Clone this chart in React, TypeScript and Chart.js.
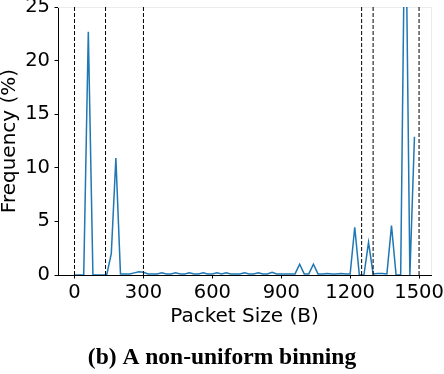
import React, { useEffect, useRef } from "react";
import { Chart, registerables } from "chart.js";

Chart.register(...registerables);

const packetSizes = [
  0, 20, 40, 60, 80, 100, 120, 140, 160, 180, 200, 220, 240, 260, 280, 300,
  320, 340, 360, 380, 400, 420, 440, 460, 480, 500, 520, 540, 560, 580, 600,
  620, 640, 660, 680, 700, 720, 740, 760, 780, 800, 820, 840, 860, 880, 900,
  920, 940, 960, 980, 1000, 1020, 1040, 1060, 1080, 1100, 1120, 1140, 1160,
  1180, 1200, 1220, 1240, 1260, 1280, 1300, 1320, 1340, 1360, 1380, 1400,
  1420, 1440, 1460, 1480,
];

const frequencies = [
  0, 0, 0, 22.7, 0, 0, 0, 0, 2.0, 10.9, 0.1, 0.1, 0.1, 0.2, 0.3, 0.25,
  0.1, 0.1, 0.1, 0.2, 0.1, 0.1, 0.2, 0.1, 0.1, 0.2, 0.1, 0.1, 0.2, 0.1, 0.1,
  0.2, 0.1, 0.2, 0.1, 0.1, 0.1, 0.2, 0.1, 0.1, 0.2, 0.1, 0.1, 0.25, 0.1, 0.1,
  0.1, 0.1, 0.1, 1.0, 0.1, 0.1, 1.0, 0.1, 0.1, 0.15, 0.1, 0.1, 0.15,
  0.1, 0.1, 4.45, 0, 0, 3.05, 0.1, 0.15, 0.15, 0.1, 4.6, 0,
  0, 38, 0, 12.9,
];

const binEdges = [0, 135, 300, 1250, 1300, 1500];
const xTicks = [0, 300, 600, 900, 1200, 1500];
const yTicks = [0, 5, 10, 15, 20, 25];
const xRange = [-72, 1552];
const yRange = [0, 25];
const xLabel = "Packet Size (B)";
const yLabel = "Frequency (%)";
const caption = "(b) A non-uniform binning";

export default function App() {
  const ref = useRef<HTMLCanvasElement>(null);

  useEffect(() => {
    document.body.style.margin = "0";
    const canvas = ref.current;
    if (!canvas) return;

    const framePlugin = {
      id: "frame",
      beforeDatasetsDraw(chart: any) {
        const { ctx, chartArea } = chart;
        const { left, right, top, bottom } = chartArea;
        ctx.save();
        ctx.strokeStyle = "#ebebeb";
        ctx.lineWidth = 1;
        ctx.beginPath();
        ctx.moveTo(left, Math.round(top) + 0.5);
        ctx.lineTo(right, Math.round(top) + 0.5);
        ctx.moveTo(Math.round(right) + 0.5, top);
        ctx.lineTo(Math.round(right) + 0.5, bottom);
        ctx.stroke();
        ctx.restore();
      },
      afterDraw(chart: any) {
        const { ctx } = chart;
        ctx.save();
        ctx.fillStyle = "#000";
        ctx.font = 'bold 23.5px "Liberation Serif"';
        ctx.textAlign = "center";
        ctx.textBaseline = "alphabetic";
        ctx.fillText(caption, chart.width / 2, 364);
        ctx.restore();
      },
    };

    const edgeSets = binEdges.map((e) => ({
      type: "line" as const,
      data: [
        { x: e, y: yRange[0] },
        { x: e, y: yRange[1] },
      ],
      borderColor: "#000",
      borderWidth: 1,
      borderDash: [4, 2],
      pointRadius: 0,
      fill: false,
      order: 0,
    }));

    const tickFont = { family: "DejaVu Sans", size: 19.5 };
    const labelFont = { family: "DejaVu Sans", size: 20 };

    const chart = new Chart(canvas, {
      type: "line",
      data: {
        datasets: [
          ...edgeSets,
          {
            type: "line" as const,
            data: packetSizes.map((x, i) => ({ x, y: frequencies[i] })),
            borderColor: "#1f77b4",
            borderWidth: 1.5,
            pointRadius: 0,
            tension: 0,
            fill: false,
            order: 1,
          },
        ],
      },
      options: {
        animation: false,
        responsive: false,
        devicePixelRatio: 1,
        layout: { padding: { top: 7, right: 13, bottom: 45, left: 0 } },
        plugins: {
          legend: { display: false },
          tooltip: { enabled: false },
          title: { display: false },
        },
        scales: {
          x: {
            type: "linear",
            min: xRange[0],
            max: xRange[1],
            afterBuildTicks: (s: any) => {
              s.ticks = xTicks.map((v) => ({ value: v }));
            },
            afterFit: (s: any) => {
              s.height = 54;
              s.paddingLeft = 0;
              s.paddingRight = 0;
            },
            grid: {
              display: true,
              drawOnChartArea: false,
              drawTicks: true,
              tickLength: 3.5,
              color: "#000",
              lineWidth: 1,
            },
            border: { display: true, color: "#000", width: 1 },
            ticks: {
              color: "#000",
              padding: 2.5,
              maxRotation: 0,
              autoSkip: false,
              font: tickFont,
              callback: (v: any) => String(v),
            },
            title: {
              display: true,
              text: xLabel,
              color: "#000",
              padding: 0,
              font: labelFont,
            },
          },
          y: {
            type: "linear",
            min: yRange[0],
            max: yRange[1],
            afterBuildTicks: (s: any) => {
              s.ticks = yTicks.map((v) => ({ value: v }));
            },
            afterFit: (s: any) => {
              s.width = 58;
              s.paddingTop = 0;
              s.paddingBottom = 0;
            },
            grid: {
              display: true,
              drawOnChartArea: false,
              drawTicks: true,
              tickLength: 3.5,
              color: "#000",
              lineWidth: 1,
            },
            border: { display: true, color: "#000", width: 1 },
            ticks: {
              color: "#000",
              padding: 4.5,
              autoSkip: false,
              font: tickFont,
              callback: (v: any) => String(v),
            },
            title: {
              display: true,
              text: yLabel,
              color: "#000",
              padding: 0,
              font: { ...labelFont, lineHeight: 1 },
            },
          },
        },
      },
      plugins: [framePlugin],
    } as any);

    return () => chart.destroy();
  }, []);

  return (
    <canvas
      ref={ref}
      width={444}
      height={374}
      style={{ display: "block", width: 444, height: 374 }}
    />
  );
}
